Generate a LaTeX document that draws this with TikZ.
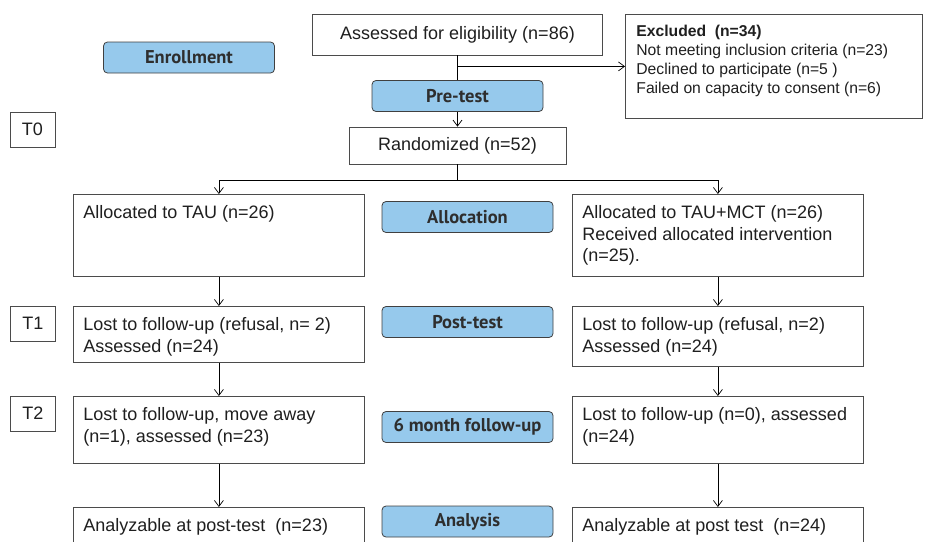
\documentclass[tikz,border=0pt]{standalone}
\usepackage{fontspec}
\setmainfont{Liberation Sans}
\newfontfamily\lblfont{PT Sans}
\usetikzlibrary{arrows.meta,positioning}
\definecolor{lblblue}{RGB}{150,201,236}
\definecolor{edge}{RGB}{75,75,75}
\newcommand{\topbox}[3]{\parbox[t][#2][t]{#1}{#3}}

\begin{document}
\begin{tikzpicture}[x=1pt,y=-1pt,
    box/.style={draw=edge, line width=0.8pt, fill=white, text=black!88,
      font=\fontsize{18}{21.6}\selectfont, inner xsep=10pt, inner ysep=11pt, anchor=north west},
    cbox/.style={draw=edge, line width=0.8pt, fill=white, text=black!88,
      font=\fontsize{18}{21.6}\selectfont, inner sep=0pt},
    tbox/.style={cbox, minimum width=45, minimum height=35},
    lbl/.style={draw=black!75, line width=0.8pt, fill=lblblue, rounded corners=4pt,
      text=black!82, font=\lblfont\bfseries\fontsize{18.5}{20}\selectfont,
      minimum width=171, minimum height=31, inner sep=0pt},
    arr/.style={-{Straight Barb[length=6pt,width=9pt]}, line width=0.7pt},
    ]
\useasboundingbox (0,0) rectangle (925,541);
\clip (0,0) rectangle (925,541);

\node[cbox, minimum width=290, minimum height=41] (assess) at (457.5,34.5) {Assessed for eligibility (n=86)};
\node[box, font=\fontsize{15.7}{19}\selectfont, inner xsep=11pt, inner ysep=11pt] (excl) at (625,14)
  {\topbox{275pt}{82pt}{\textbf{Excluded\ \ (n=34)}\\Not meeting inclusion criteria (n=23)\\
   Declined to participate (n=5 )\\Failed on capacity to consent (n=6)}};
\node[cbox, minimum width=217, minimum height=37] (rand) at (457.5,145.5) {Randomized (n=52)};

\node[box] (allocL) at (73,194) {\topbox{271pt}{60pt}{Allocated to TAU (n=26)}};
\node[box] (allocR) at (572,194) {\topbox{271pt}{60pt}{Allocated to TAU+MCT (n=26)\\
   Received allocated intervention\\(n=25).}};
\node[box] (postL) at (73,306) {\topbox{271pt}{34pt}{Lost to follow-up (refusal, n= 2)\\Assessed (n=24)}};
\node[box] (postR) at (572,306) {\topbox{271pt}{38pt}{Lost to follow-up (refusal, n=2)\\Assessed (n=24)}};
\node[box] (sixL) at (73,396) {\topbox{271pt}{45pt}{Lost to follow-up, move away\\(n=1), assessed (n=23)}};
\node[box] (sixR) at (572,396) {\topbox{271pt}{45pt}{Lost to follow-up (n=0), assessed\\(n=24)}};
\node[box] (anaL) at (73,507) {\topbox{271pt}{38pt}{Analyzable at post-test\ \ (n=23)}};
\node[box] (anaR) at (572,507) {\topbox{271pt}{38pt}{Analyzable at post test\ \ (n=24)}};

\node[tbox] (t0) at (32.5,129.5) {T0};
\node[tbox] (t1) at (33,323.5) {T1};
\node[tbox] (t2) at (33,413.5) {T2};

\coordinate (branch) at (assess.south |- excl.west);
\coordinate (split) at (457.5,180);
\draw[line width=0.7pt] (assess.south) -- (branch) -- (457.5,80);
\draw[arr] (branch) -- (excl.west);
\draw[arr] (457.5,112) -- (rand.north);
\draw[line width=0.7pt] (rand.south) -- (split);
\draw[arr] (split) -| (allocL.north);
\draw[arr] (split) -| (allocR.north);
\foreach \a/\b in {allocL/postL, postL/sixL, sixL/anaL, allocR/postR, postR/sixR, sixR/anaR}
  \draw[arr] (\a.south) -- (\b.north);

\node[lbl] (enrol) at (189,57.5) {Enrollment};
\node[lbl] (pretest) at (457.5,96) {Pre-test};
\node[lbl] (alloc) at (467.5,217) {Allocation};
\node[lbl] (post) at (467.5,322) {Post-test};
\node[lbl] (sixm) at (467.5,427) {6 month follow-up};
\node[lbl] (analysis) at (467.5,521.5) {Analysis};
\end{tikzpicture}
\end{document}
